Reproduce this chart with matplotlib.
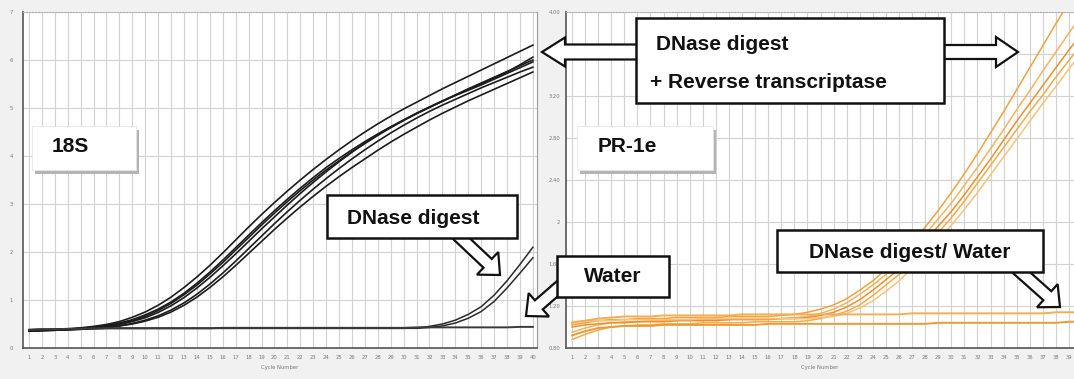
import matplotlib.pyplot as plt
from matplotlib.patches import Rectangle, FancyArrow

# qPCR amplification curves, 40 cycles
cycles = list(range(1, 41))

# 18S panel: DNase digest + reverse transcriptase
s18_rt_a = [0.36, 0.37, 0.38, 0.40, 0.42, 0.45, 0.49, 0.55, 0.64, 0.75,
            0.89, 1.06, 1.26, 1.48, 1.72, 1.98, 2.25, 2.52, 2.78, 3.03,
            3.27, 3.50, 3.72, 3.93, 4.13, 4.32, 4.50, 4.67, 4.83, 4.98,
            5.12, 5.26, 5.40, 5.53, 5.66, 5.79, 5.92, 6.05, 6.18, 6.31]
s18_rt_b = [0.36, 0.37, 0.38, 0.39, 0.41, 0.44, 0.47, 0.52, 0.59, 0.69,
            0.81, 0.96, 1.14, 1.35, 1.58, 1.83, 2.09, 2.35, 2.61, 2.86,
            3.10, 3.33, 3.55, 3.76, 3.95, 4.13, 4.30, 4.46, 4.61, 4.75,
            4.89, 5.02, 5.15, 5.27, 5.39, 5.51, 5.63, 5.75, 5.90, 6.06]
s18_rt_c = [0.36, 0.37, 0.37, 0.38, 0.40, 0.42, 0.45, 0.49, 0.55, 0.63,
            0.74, 0.88, 1.05, 1.25, 1.47, 1.71, 1.96, 2.22, 2.48, 2.73,
            2.98, 3.22, 3.45, 3.67, 3.88, 4.08, 4.27, 4.44, 4.60, 4.75,
            4.89, 5.02, 5.14, 5.26, 5.37, 5.48, 5.60, 5.72, 5.84, 5.96]
s18_rt_d = [0.35, 0.36, 0.37, 0.38, 0.39, 0.41, 0.43, 0.46, 0.51, 0.58,
            0.67, 0.79, 0.94, 1.12, 1.33, 1.56, 1.81, 2.07, 2.33, 2.59,
            2.84, 3.08, 3.31, 3.53, 3.74, 3.94, 4.13, 4.31, 4.48, 4.64,
            4.79, 4.93, 5.06, 5.18, 5.30, 5.42, 5.53, 5.64, 5.75, 5.85]
s18_rt_e = [0.35, 0.36, 0.37, 0.38, 0.39, 0.41, 0.43, 0.46, 0.50, 0.56,
            0.64, 0.75, 0.89, 1.06, 1.26, 1.48, 1.72, 1.97, 2.22, 2.47,
            2.71, 2.94, 3.16, 3.37, 3.57, 3.76, 3.94, 4.12, 4.29, 4.45,
            4.60, 4.75, 4.89, 5.02, 5.15, 5.27, 5.39, 5.51, 5.63, 5.75]
s18_rt_f = [0.36, 0.37, 0.38, 0.39, 0.41, 0.43, 0.46, 0.50, 0.57, 0.66,
            0.78, 0.93, 1.11, 1.31, 1.54, 1.78, 2.04, 2.30, 2.56, 2.81,
            3.05, 3.28, 3.50, 3.71, 3.90, 4.09, 4.26, 4.43, 4.59, 4.74,
            4.88, 5.01, 5.14, 5.27, 5.40, 5.52, 5.64, 5.76, 5.88, 6.00]
s18_dnase_a = [0.38, 0.39, 0.39, 0.40, 0.40, 0.40, 0.41, 0.41, 0.41, 0.41,
               0.41, 0.41, 0.41, 0.41, 0.41, 0.41, 0.41, 0.41, 0.41, 0.41,
               0.41, 0.41, 0.41, 0.41, 0.41, 0.41, 0.41, 0.41, 0.41, 0.41,
               0.42, 0.45, 0.50, 0.58, 0.70, 0.86, 1.10, 1.40, 1.74, 2.10]
s18_dnase_b = [0.38, 0.39, 0.39, 0.40, 0.40, 0.40, 0.41, 0.41, 0.41, 0.41,
               0.41, 0.41, 0.41, 0.41, 0.41, 0.41, 0.41, 0.41, 0.41, 0.41,
               0.41, 0.41, 0.41, 0.41, 0.41, 0.41, 0.41, 0.41, 0.41, 0.41,
               0.41, 0.43, 0.46, 0.52, 0.62, 0.76, 0.97, 1.25, 1.56, 1.88]
s18_water = [0.38, 0.39, 0.39, 0.40, 0.40, 0.41, 0.41, 0.41, 0.41, 0.41,
             0.41, 0.41, 0.41, 0.41, 0.41, 0.42, 0.42, 0.42, 0.42, 0.42,
             0.42, 0.42, 0.42, 0.42, 0.42, 0.42, 0.42, 0.42, 0.42, 0.42,
             0.43, 0.43, 0.43, 0.43, 0.43, 0.43, 0.43, 0.43, 0.44, 0.44]

# PR-1e panel
pr_rt_a = [1.02, 1.04, 1.06, 1.07, 1.07, 1.08, 1.08, 1.08, 1.09, 1.09,
           1.09, 1.09, 1.10, 1.10, 1.10, 1.10, 1.11, 1.12, 1.14, 1.17,
           1.21, 1.27, 1.35, 1.44, 1.55, 1.67, 1.80, 1.95, 2.11, 2.28,
           2.46, 2.65, 2.85, 3.05, 3.26, 3.47, 3.68, 3.89, 4.09, 4.28]
pr_rt_b = [0.95, 0.99, 1.02, 1.04, 1.05, 1.05, 1.06, 1.06, 1.06, 1.07,
           1.07, 1.07, 1.07, 1.08, 1.08, 1.08, 1.08, 1.09, 1.10, 1.13,
           1.17, 1.23, 1.31, 1.40, 1.50, 1.61, 1.74, 1.88, 2.03, 2.18,
           2.35, 2.52, 2.70, 2.88, 3.07, 3.25, 3.44, 3.62, 3.80, 3.98]
pr_rt_c = [1.00, 1.02, 1.03, 1.04, 1.04, 1.05, 1.05, 1.05, 1.06, 1.06,
           1.06, 1.06, 1.07, 1.07, 1.07, 1.07, 1.08, 1.08, 1.09, 1.11,
           1.14, 1.19, 1.26, 1.35, 1.45, 1.55, 1.68, 1.82, 1.96, 2.10,
           2.26, 2.43, 2.60, 2.78, 2.96, 3.13, 3.30, 3.47, 3.64, 3.80]
pr_rt_d = [0.88, 0.93, 0.97, 1.00, 1.01, 1.02, 1.02, 1.03, 1.03, 1.03,
           1.04, 1.04, 1.04, 1.04, 1.05, 1.05, 1.05, 1.05, 1.06, 1.08,
           1.11, 1.15, 1.21, 1.30, 1.40, 1.50, 1.62, 1.76, 1.90, 2.04,
           2.20, 2.37, 2.54, 2.71, 2.88, 3.05, 3.21, 3.38, 3.54, 3.70]
pr_rt_e = [1.05, 1.06, 1.06, 1.06, 1.07, 1.07, 1.07, 1.07, 1.07, 1.07,
           1.08, 1.08, 1.08, 1.08, 1.08, 1.08, 1.08, 1.08, 1.08, 1.09,
           1.10, 1.13, 1.18, 1.25, 1.34, 1.44, 1.56, 1.69, 1.83, 1.97,
           2.12, 2.28, 2.45, 2.62, 2.79, 2.96, 3.13, 3.29, 3.46, 3.62]
pr_flat_a = [1.04, 1.06, 1.08, 1.09, 1.10, 1.10, 1.10, 1.11, 1.11, 1.11,
             1.11, 1.11, 1.11, 1.12, 1.12, 1.12, 1.12, 1.12, 1.12, 1.12,
             1.12, 1.12, 1.12, 1.12, 1.12, 1.12, 1.13, 1.13, 1.13, 1.13,
             1.13, 1.13, 1.13, 1.13, 1.13, 1.13, 1.13, 1.14, 1.14, 1.14]
pr_flat_b = [0.92, 0.96, 0.99, 1.00, 1.01, 1.01, 1.01, 1.02, 1.02, 1.02,
             1.02, 1.02, 1.02, 1.02, 1.02, 1.03, 1.03, 1.03, 1.03, 1.03,
             1.03, 1.03, 1.03, 1.03, 1.03, 1.03, 1.03, 1.03, 1.04, 1.04,
             1.04, 1.04, 1.04, 1.04, 1.04, 1.04, 1.04, 1.04, 1.05, 1.05]

s18_yticks = [0, 1, 2, 3, 4, 5, 6, 7]
pr_yticks = [0.8, 1.2, 1.6, 2.0, 2.4, 2.8, 3.2, 3.6, 4.0]
pr_ylabels = ['0.80', '1.20', '1.60', '2', '2.40', '2.80', '3.20', '3.60', '4.00']

W, H = 1074, 379
fig = plt.figure(figsize=(W / 100, H / 100), dpi=100, facecolor='#f1f1f1')


def px_axes(x0, y0, x1, y1):
    return fig.add_axes([x0 / W, 1 - y1 / H, (x1 - x0) / W, (y1 - y0) / H])


def style(ax, xlim, xticks, ylim, yticks, ylabels, ypad):
    ax.set_xlim(*xlim)
    ax.set_ylim(*ylim)
    ax.set_xticks(xticks)
    ax.set_xticklabels([str(c) for c in xticks], fontsize=3.8, color='#777777')
    ax.set_yticks(yticks)
    ax.set_yticklabels(ylabels, fontsize=3.8, color='#777777')
    ax.tick_params(axis='x', length=0, pad=5)
    ax.tick_params(axis='y', length=0, pad=ypad)
    ax.grid(True, color='#d2d2d2', lw=0.8)
    ax.set_axisbelow(True)
    for s in ['left', 'bottom']:
        ax.spines[s].set_color('#555555')
        ax.spines[s].set_linewidth(1.2)
    ax.spines['top'].set_color('#b0b0b0')
    ax.spines['top'].set_linestyle(':')
    ax.spines['right'].set_color('#9a9a9a')
    ax.set_xlabel('Cycle Number', fontsize=3.8, color='#777777', labelpad=4)


ax1 = px_axes(23, 12, 537, 348)
style(ax1, (0.54, 40.32), cycles, (0, 7), s18_yticks,
      [str(t) for t in s18_yticks], 7)
for ys in [s18_rt_a, s18_rt_b, s18_rt_c, s18_rt_d, s18_rt_e, s18_rt_f]:
    ax1.plot(cycles, ys, color='#1c1c1c', lw=1.2)
for ys in [s18_dnase_a, s18_dnase_b]:
    ax1.plot(cycles, ys, color='#2a2a2a', lw=1.1)
ax1.plot(cycles, s18_water, color='#3a3a3a', lw=1.4)

# the PR-1e panel is cropped on the right, so cycle 40 has no visible label
ax2 = px_axes(566, 12, 1074, 348)
style(ax2, (0.54, 39.38), cycles[:-1], (0.8, 4.0), pr_yticks, pr_ylabels, 4)
ax2.spines['right'].set_visible(False)
oranges = ['#f2a23c', '#f5b35f', '#ec9028', '#f3aa4c', '#f7c27c']
for ys, c in zip([pr_rt_a, pr_rt_b, pr_rt_c, pr_rt_d, pr_rt_e], oranges):
    ax2.plot(cycles, ys, color=c, lw=1.1)
ax2.plot(cycles, pr_flat_a, color='#f4ad52', lw=1.4)
ax2.plot(cycles, pr_flat_b, color='#ee9a34', lw=1.4)

# overlay for call-out boxes and block arrows, in pixel units
ov = fig.add_axes([0, 0, 1, 1])
ov.set_xlim(0, W)
ov.set_ylim(H, 0)
ov.axis('off')
ov.patch.set_alpha(0)

bold = dict(family='Liberation Sans', weight='bold', fontsize=15, color='#111111')


def arrow(x, y, dx, dy, w, hw, hl):
    ov.add_patch(FancyArrow(x, y, dx, dy, width=w, head_width=hw, head_length=hl,
                            length_includes_head=True, fc='white', ec='#111111',
                            lw=1.6, zorder=2))


def box(x0, y0, x1, y1):
    ov.add_patch(Rectangle((x0, y0), x1 - x0, y1 - y0, fc='white', ec='#111111',
                           lw=1.8, zorder=3))


def label_box(x0, y0, x1, y1):
    ov.add_patch(Rectangle((x0 + 3, y0 + 4), x1 - x0, y1 - y0, fc='#b4b4b4',
                           ec='none', zorder=3))
    ov.add_patch(Rectangle((x0, y0), x1 - x0, y1 - y0, fc='white',
                           ec='#e6e6e6', lw=0.6, zorder=3))


# gene labels
label_box(32, 126, 136, 170)
ov.text(52, 147, '18S', va='center', ha='left', zorder=4, **bold)
label_box(577, 126, 713, 170)
ov.text(598, 147, 'PR-1e', va='center', ha='left', zorder=4, **bold)

# DNase digest + reverse transcriptase
arrow(640, 52, -98, 0, 15, 29, 23)
arrow(940, 52, 78, 0, 14, 30, 22)
box(636, 18, 944, 103)
ov.text(656, 44, 'DNase digest', va='center', ha='left', zorder=4, **bold)
ov.text(650, 83, '+ Reverse transcriptase', va='center', ha='left', zorder=4, **bold)

# DNase digest (18S)
arrow(448, 226, 52, 49, 12, 31, 17)
box(327, 195, 517, 238)
ov.text(347, 218, 'DNase digest', va='center', ha='left', zorder=4, **bold)

# Water (18S)
arrow(572, 276, -46, 40, 12, 31, 17)
box(557, 256, 669, 297)
ov.text(613, 277, 'Water', va='center', ha='center', zorder=4, **bold)

# DNase digest / Water (PR-1e)
arrow(1005, 258, 55, 49, 12, 31, 17)
box(777, 230, 1043, 272)
ov.text(910, 252, 'DNase digest/ Water', va='center', ha='center', zorder=4, **bold)

fig.savefig('out.png', dpi=100, facecolor=fig.get_facecolor())
